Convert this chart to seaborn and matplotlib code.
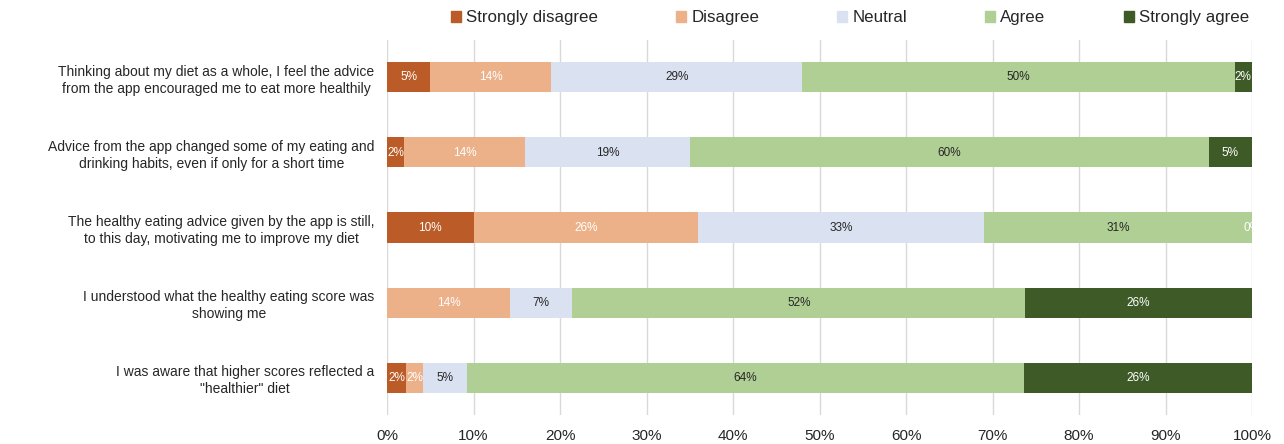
import matplotlib
matplotlib.use('Agg')
import matplotlib.pyplot as plt
import numpy as np
import pandas as pd
import seaborn as sns
from matplotlib.patches import Patch

# Questions (top to bottom)
questions = [
    'Thinking about my diet as a whole, I feel the advice\nfrom the app encouraged me to eat more healthily',
    'Advice from the app changed some of my eating and\ndrinking habits, even if only for a short time',
    'The healthy eating advice given by the app is still,\nto this day, motivating me to improve my diet',
    'I understood what the healthy eating score was\nshowing me',
    'I was aware that higher scores reflected a\n"healthier" diet',
]
responses = ['Strongly disagree', 'Disagree', 'Neutral', 'Agree', 'Strongly agree']

# Percentages per response (one list per response, same order as questions)
strongly_disagree = [5, 2, 10, np.nan, 2.2]
disagree = [14, 14, 26, 14.2, 2.0]
neutral = [29, 19, 33, 7.2, 5.0]
agree = [50, 60, 31, 52.4, 64.4]
strongly_agree = [2, 5, 0, 26.2, 26.4]

colors = ['#BA5B28', '#EDB18A', '#DAE1F0', '#B0CF95', '#3E5A27']
text_colors = ['white', 'white', '#262626', '#262626', 'white']

df = pd.DataFrame({
    'question': questions,
    'Strongly disagree': strongly_disagree,
    'Disagree': disagree,
    'Neutral': neutral,
    'Agree': agree,
    'Strongly agree': strongly_agree,
})

sns.set_theme(style='whitegrid')
plt.rcParams['font.family'] = ['Liberation Sans', 'DejaVu Sans']

fig = plt.figure(figsize=(12.84, 4.44), dpi=100)
ax = fig.add_axes([387 / 1284, 29 / 444, 865 / 1284, 375 / 444])

y = np.arange(len(questions))
left = np.zeros(len(questions))
for resp, col, tcol in zip(responses, colors, text_colors):
    vals = df[resp].to_numpy(dtype=float)
    w = np.nan_to_num(vals)
    ax.barh(y, w, left=left, height=0.4, color=col, edgecolor='none', zorder=3)
    for i, v in enumerate(vals):
        if np.isnan(v):
            continue
        ax.text(left[i] + w[i] / 2, y[i], f'{v:.0f}%', ha='center', va='center',
                fontsize=8.5, color=tcol, zorder=4)
    left += w

ax.set_xlim(0, 100)
ax.set_ylim(len(questions) - 0.5, -0.5)
ax.set_xticks(np.arange(0, 101, 10))
ax.set_xticklabels([f'{t}%' for t in range(0, 101, 10)], fontsize=11, color='#262626')
ax.set_yticks(y)
ax.set_yticklabels(questions, fontsize=10, color='#262626', multialignment='center',
                   linespacing=1.25)
ax.tick_params(axis='x', length=0, pad=10)
ax.tick_params(axis='y', length=0, pad=9)
ax.grid(axis='x', color='#D9D9D9', linewidth=1)
ax.grid(axis='y', visible=False)
for s in ax.spines.values():
    s.set_visible(False)

handles = [Patch(facecolor=c, edgecolor=c) for c in colors]
fig.legend(handles, responses, loc='center', bbox_to_anchor=(0.662, 0.96), ncol=5,
           frameon=False, fontsize=12.2, handlelength=0.6, handleheight=0.6,
           handletextpad=0.3, columnspacing=4.6)

fig.savefig('out.png', dpi=100)
